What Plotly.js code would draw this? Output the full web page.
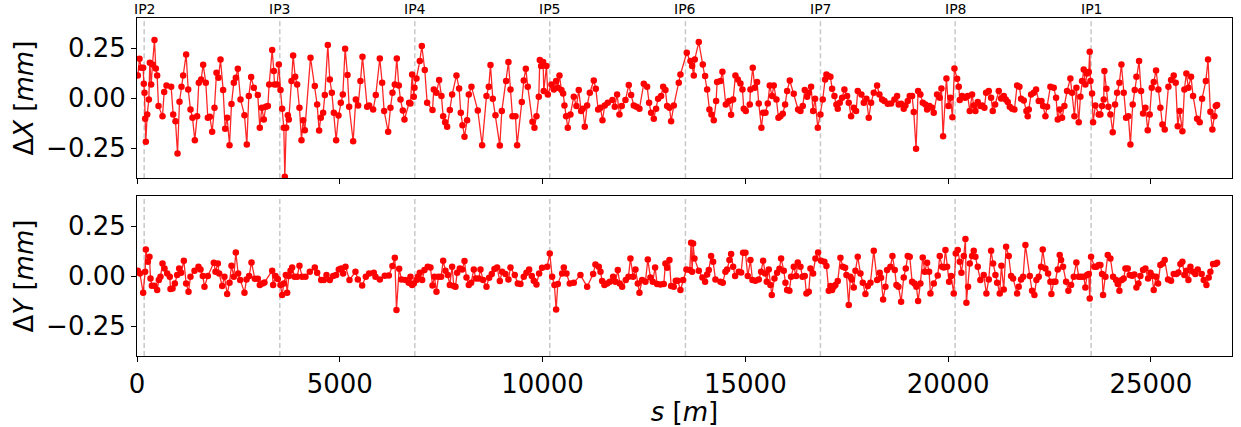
<!DOCTYPE html>
<html>
<head>
<meta charset="utf-8">
<script src="https://cdn.plot.ly/plotly-3.0.1.min.js"></script>
<style>html,body{margin:0;padding:0;background:#fff;}#chart{width:1241px;height:427px;}</style>
</head>
<body>
<div id="chart"></div>
<script>
// Longitudinal position s [m] of each BPM reading, horizontal plane
const sX = [
20,62,103,152,168,185,201,218,251,292,316,349,382,431,464,497,530,629,670,727,842,892,949,999,1048,1097,1138,1212,1262,1319,1368,1426,1483,1524,1582,1631,1697,1746,1796,1853,1911,1960,2009,2059,2124,2174,2223,2281,2330,2387,2437,2486,2552,2650,2708,2757,2815,2881,2979,3028,3078,3127,3176,3226,3259,
3333,3374,3390,3456,3497,3538,3579,3620,3645,3678,3719,3743,3809,3850,3900,3949,4006,4056,4097,4138,4278,4384,4442,4491,4532,4590,4631,4705,4754,4804,4853,4910,4968,5025,5075,5132,5190,5231,5330,5395,5453,5510,5560,5675,5724,5823,5888,5987,6045,6094,6193,6250,6299,6357,6406,6455,6497,6554,6595,6710,
6743,6784,6825,6842,6891,6973,7023,7096,7154,7286,7318,7384,7450,7507,7549,7598,7647,7713,7770,7877,7943,7984,8025,8075,8140,8181,8247,8403,8510,8617,8674,8716,8773,8839,8946,8995,9102,9159,9209,9258,9332,9373,9488,9537,9587,9636,9751,9800,9850,9907,9932,9965,10014,10030,10096,10129,
10220,10277,10335,10376,10417,10466,10507,10540,10581,10622,10688,10770,10836,10893,10951,10992,11041,11099,11165,11263,11313,11370,11428,11477,11534,11608,11723,11781,11838,11896,11953,12044,12126,12184,12249,12315,12389,12496,12578,12627,12677,12743,12800,12849,12923,12973,13030,13071,13129,13170,13236,13359,13400,13556,
13647,13688,13729,13753,13852,13951,14008,14058,14115,14164,14222,14280,14304,14386,14435,14518,14600,14649,14699,14756,14814,14879,14929,14961,15011,15109,15126,15183,15233,15290,15331,15397,15438,15496,15553,15602,15660,15701,15767,15816,15865,15923,15981,16030,16096,16194,16301,16359,16416,16465,16523,16564,16622,16671,16720,16786,16852,16909,16967,17000,17041,
17098,17139,17197,17246,17279,17328,17386,17443,17509,17550,17608,17673,17731,17772,17862,17920,17986,18043,18101,18167,18249,18306,18372,18430,18512,18594,18676,18742,18783,18841,18906,18947,19005,19054,19112,19153,19210,19260,19317,19375,19440,19482,19539,19605,19646,19728,19794,19835,19876,19958,20008,20057,20106,20156,20222,20263,20287,20345,20419,20484,20534,
20591,20632,20673,20731,20796,20837,20895,20937,21002,21060,21101,21159,21249,21306,21372,21421,21471,21520,21578,21635,21701,21758,21799,21865,21931,21963,21988,22046,22111,22169,22235,22301,22342,22399,22440,22522,22604,22662,22703,22752,22810,22867,22933,23015,23056,23114,23163,23221,23262,23303,23344,23385,23427,23468,23492,23509,23550,23575,23632,23714,
23755,23796,23837,23854,23903,23952,24002,24059,24117,24166,24224,24273,24330,24388,24445,24495,24552,24602,24643,24708,24758,24807,24865,24922,24971,25021,25070,25128,25185,25234,25284,25341,25432,25497,25563,25612,25662,25711,25777,25826,25875,25925,25990,26040,26139,26204,26262,26355,26409,26467,26516,26566,26599,26632
];
// Horizontal orbit difference ΔX [mm]
const dX = [
0.113,0.197,0.152,0.152,0.072,0.027,-0.103,-0.218,-0.082,-0.007,0.177,0.068,0.168,0.29,0.148,0.113,-0.04,-0.09,0.03,0.063,0.057,-0.082,-0.115,-0.277,-0.018,0.057,0.113,0.218,0.043,-0.057,-0.098,-0.21,-0.09,0.077,0.093,0.167,0.077,-0.098,-0.093,-0.168,-0.048,0.127,0.102,0.193,0.04,-0.153,-0.098,-0.235,-0.03,0.077,0.102,0.147,-0.007,-0.085,-0.232,0.01,0.105,0.052,0.015,-0.148,-0.048,-0.107,-0.043,-0.04,0.068,
0.24,0.135,0.068,0.068,0.168,0.04,-0.053,-0.148,-0.393,-0.148,-0.085,-0.107,0.085,0.213,0.107,0.068,-0.048,-0.21,-0.11,-0.16,0.202,0.06,-0.032,-0.162,-0.098,-0.073,0.015,0.265,0.093,0.027,-0.073,-0.21,-0.087,-0.023,0.018,0.247,0.115,-0.043,-0.215,-0.007,-0.037,0.085,0.207,-0.043,-0.037,-0.057,0.015,0.198,0.077,-0.065,-0.168,-0.048,0.027,0.068,0.198,0.063,-0.007,-0.062,-0.107,-0.023,
-0.027,0.118,0.007,0.052,0.098,0.185,0.26,0.14,-0.023,-0.06,0.043,0.027,0.09,0.01,-0.09,-0.12,-0.143,-0.06,0.018,0.113,0.048,-0.073,-0.135,-0.193,-0.11,0.018,0.057,-0.062,-0.235,0.01,0.057,0.165,-0.003,-0.085,-0.237,-0.065,0.085,0.18,0.043,-0.09,-0.09,-0.235,-0.02,0.088,0.147,0.057,-0.118,-0.148,-0.09,0.007,0.19,0.16,0.18,0.035,0.16,0.018,
0.068,0.043,0.085,0.052,0.113,0.04,0.023,-0.037,-0.09,-0.148,-0.082,0.007,-0.04,0.04,-0.065,-0.053,-0.143,-0.037,0.027,0.088,0.047,-0.057,-0.048,-0.11,-0.037,-0.023,-0.01,-0.043,0.018,-0.082,-0.04,-0.01,0.065,0.015,-0.037,-0.043,-0.053,0.072,0.057,-0.023,-0.073,-0.103,-0.053,-0.003,0.01,0.057,0.04,-0.04,-0.048,-0.115,-0.037,0.077,0.118,0.227,
0.185,0.16,0.113,0.193,0.28,0.168,0.11,0.043,-0.057,-0.082,-0.11,-0.015,0.08,0.085,0.132,-0.032,-0.015,-0.083,-0.007,0.113,0.093,0.073,0.043,-0.053,-0.065,-0.032,0.043,0.152,0.052,0.08,-0.027,-0.148,-0.073,-0.073,-0.027,0.063,0.01,0.063,-0.007,-0.098,-0.09,-0.078,-0.032,0.035,0.088,0.022,-0.057,-0.065,-0.04,0.04,0.007,0.027,0.057,-0.065,-0.003,-0.148,-0.082,-0.007,0.093,0.118,0.11,
0.107,0.047,0.01,-0.032,-0.053,-0.023,0.002,0.043,0.01,-0.023,-0.09,-0.048,-0.065,0.035,0.018,-0.023,-0.003,-0.098,-0.023,0.027,0.063,0.018,-0.007,-0.015,-0.028,-0.027,-0.007,0.01,-0.032,-0.028,-0.053,-0.037,-0.015,0.01,0.01,-0.07,-0.253,0.035,0.018,-0.023,-0.032,-0.057,-0.04,-0.048,-0.073,0.018,0.002,0.048,-0.19,0.098,-0.04,0.002,-0.095,0.148,0.097,0.057,-0.01,0.01,0.002,0.01,-0.065,
0.018,-0.037,-0.065,-0.02,-0.04,-0.037,-0.048,0.027,0.035,0.002,-0.065,-0.032,0.035,-0.002,0.01,-0.007,-0.02,-0.043,-0.053,-0.057,0.063,0.057,-0.003,-0.012,-0.065,-0.09,-0.057,0.018,0.027,0.043,-0.015,-0.015,-0.04,-0.09,-0.043,0.057,0.052,0.002,-0.107,-0.057,-0.098,-0.04,0.035,0.098,0.027,-0.09,0.052,-0.12,0.007,0.085,0.143,0.068,0.123,0.13,0.232,0.085,0.023,-0.12,-0.037,-0.082,
-0.082,-0.04,-0.007,0.135,0.047,-0.043,-0.082,-0.17,-0.032,0.027,0.077,0.168,0.027,-0.098,-0.09,-0.232,-0.032,0.04,0.107,0.185,0.035,-0.077,-0.048,-0.16,-0.082,0.052,0.08,0.138,0.043,-0.048,-0.132,-0.157,0.057,0.09,0.113,0.077,-0.14,-0.065,-0.165,0.043,0.123,0.052,0.107,0.01,-0.103,-0.12,-0.003,0.085,0.193,-0.068,-0.157,-0.09,-0.04,-0.035
];
// Longitudinal position s [m], vertical plane
const sY = [
20,70,152,201,218,267,308,333,366,431,497,538,579,629,678,744,809,826,875,933,990,1040,1089,1155,1212,1270,1319,1418,1516,1566,1623,1664,1746,1894,1935,1993,2026,2100,2157,2223,2281,2330,2387,2437,2494,2544,2650,2700,2765,2823,2905,2979,3028,3094,3143,
3333,3357,3415,3472,3538,3579,3620,3669,3702,3743,3785,3826,3883,3949,4006,4072,4154,4261,4384,4442,4541,4606,4672,4754,4837,4910,4976,5034,5083,5141,5239,5387,5445,5552,5642,5724,5839,5880,5987,6110,6209,6299,6357,6398,6464,6521,6620,6702,
6743,6784,6825,6891,6924,6973,7031,7088,7170,7236,7286,7335,7384,7433,7499,7549,7606,7664,7713,7770,7811,7853,7894,7959,8017,8075,8124,8181,8239,8305,8354,8428,8469,8535,8617,8683,8748,8814,8880,8946,9003,9085,9159,9209,9315,9389,9455,9537,9603,9669,9735,9784,9850,9915,9989,10113,10178,
10236,10293,10335,10376,10483,10524,10589,10671,10770,10934,11099,11247,11304,11386,11428,11469,11526,11592,11658,11740,11797,11855,11904,11962,12052,12118,12167,12233,12290,12348,12389,12455,12537,12595,12660,12718,12775,12825,12907,12989,13030,13071,13129,13170,13236,13285,13334,13400,13466,13548,13630,
13663,13688,13712,13745,13852,13942,14008,14058,14099,14156,14206,14263,14386,14444,14509,14551,14608,14649,14699,14748,14838,14896,14945,15003,15060,15126,15175,15249,15331,15389,15438,15487,15528,15578,15619,15652,15718,15783,15841,15882,15948,15989,16030,16087,16128,16194,16252,16293,16359,16408,16465,16506,16564,16605,16671,16729,16794,16868,16950,17000,17057,
17098,17139,17180,17221,17279,17345,17402,17460,17493,17550,17591,17624,17673,17715,17772,17838,17896,17961,18019,18085,18167,18249,18314,18347,18397,18454,18495,18578,18627,18685,18726,18775,18841,18906,18956,19005,19054,19112,19169,19218,19260,19317,19375,19424,19482,19531,19564,19646,19744,19794,19851,19892,19934,19975,20024,20073,20139,20188,20238,20287,20328,20386,20427,20451,20492,20534,
20591,20632,20673,20731,20796,20878,20944,21002,21060,21109,21167,21208,21273,21314,21372,21430,21495,21553,21602,21701,21742,21799,21849,21906,22013,22070,22128,22177,22235,22292,22333,22399,22465,22522,22547,22604,22646,22703,22752,22785,22834,22909,22966,23032,23098,23163,23221,23279,23344,23385,23427,23468,23492,23525,23607,23657,23714,
23755,23796,23821,23879,23936,24002,24068,24141,24183,24224,24281,24330,24372,24429,24478,24536,24593,24643,24692,24741,24807,24865,24930,24988,25029,25070,25128,25177,25234,25292,25341,25423,25497,25563,25629,25678,25728,25777,25826,25875,25925,25974,26040,26097,26155,26253,26303,26369,26426,26467,26533,26591,26632
];
// Vertical orbit difference ΔY [mm]
const dY = [
0.027,0.013,-0.083,0.022,0.133,0.072,0.097,-0.012,-0.048,-0.048,-0.07,-0.02,-0.003,0.063,0.038,0.013,-0.003,-0.065,-0.062,-0.037,0.005,0.038,0.017,0.077,-0.037,-0.078,-0.003,0.027,0.047,0.033,0,-0.053,0,0.067,0.022,0.063,0.013,-0.05,-0.003,-0.09,-0.033,0.052,-0.003,0.118,0.013,-0.02,-0.083,-0.017,0,0.068,-0.013,-0.013,-0.045,-0.037,-0.032,
0.027,-0.045,0,-0.015,-0.045,-0.095,-0.037,0.005,-0.083,0,0.027,0.043,-0.003,-0.003,0.052,-0.003,-0.003,0.022,0.043,0.017,-0.02,-0.02,0.005,-0.02,0,0.005,0.033,0.038,0.013,0.047,-0.02,0.022,-0.017,-0.047,-0.003,0.013,0.017,-0.003,-0.017,0.002,0.003,0.05,0.092,-0.17,0.037,-0.017,-0.02,-0.033,
-0.003,-0.045,-0.037,-0.02,-0.003,0.017,-0.02,0.03,0.047,0.043,-0.047,-0.003,-0.078,-0.003,-0.003,0.077,0.027,0.005,-0.045,0.047,-0.05,-0.053,0.017,0.038,0.033,0.075,-0.007,-0.045,-0.033,0.033,-0.012,-0.012,0.033,-0.02,-0.053,-0.008,0.01,0.035,0.043,-0.025,0.022,0.01,-0.017,0.043,0.005,-0.037,-0.04,-0.003,0.017,0.033,0,-0.023,-0.042,0.013,0.042,0.047,0.113,
-0.003,-0.045,-0.167,-0.04,0.013,0.043,0.013,-0.037,-0.033,0.005,-0.053,0.01,0.058,0.047,0.022,-0.025,-0.045,-0.037,-0.028,-0.003,-0.028,0.03,-0.037,-0.053,-0.02,-0.003,0.088,-0.003,0.033,-0.037,-0.083,-0.02,-0.028,0.083,-0.007,-0.028,0.043,-0.04,-0.042,-0.04,0.063,0.042,0.08,-0.05,-0.053,-0.023,-0.023,-0.07,-0.02,0.033,0.03,
0.167,0.022,0.163,0.088,0.027,-0.007,-0.028,0.008,0.03,0.1,0.072,-0.017,-0.028,-0.033,0.022,0.033,0.08,0.11,0.047,0,0.022,0.018,0.117,0.117,0,0.08,-0.02,-0.023,-0.017,0.022,0.077,0.013,-0.028,0.033,-0.045,-0.095,-0.012,0.017,0.037,0.088,0.027,-0.033,-0.07,-0.073,-0.003,0.047,0,0.068,0.047,-0.003,0,-0.087,-0.078,0.038,0.013,0.088,0.118,0.077,0.072,0.05,-0.073,
-0.05,-0.07,-0.053,-0.045,-0.025,0.092,0.047,0.042,0.005,-0.145,-0.003,-0.017,-0.057,0.027,0.097,0.013,-0.033,-0.09,-0.05,-0.033,0.127,-0.02,0.017,-0.008,-0.117,-0.053,0.03,0.047,0.1,0.03,-0.045,-0.053,-0.128,-0.007,0.038,0.1,0.097,-0.028,-0.037,-0.053,-0.125,-0.037,0.093,0.022,0.067,0.022,-0.087,-0.037,0.003,0.1,0.047,0.043,0.13,0.047,-0.028,0,-0.087,0.113,0.13,0.072,0.017,0.1,0.185,-0.133,-0.053,0.063,
0.1,0.127,0.097,0.047,-0.02,0.005,-0.087,-0.017,0.127,0.063,0.005,-0.033,-0.087,0.052,-0.067,0.147,0.1,0,-0.012,-0.087,-0.053,-0.017,-0.003,0.155,0,-0.073,-0.095,-0.02,-0.003,0.047,0.133,0.038,0.013,-0.028,-0.09,-0.028,-0.028,0.033,0.105,0.08,0.047,-0.028,-0.073,-0.045,-0.003,0.068,-0.003,-0.003,-0.003,-0.057,0.005,0.01,-0.112,0.097,0.047,0.047,0.055,
0.055,0.01,-0.095,-0.003,0.105,0.088,-0.003,-0.02,-0.04,-0.073,-0.02,-0.012,0.038,0.038,0.005,0.002,0.008,-0.057,-0.037,0,0.03,0.038,-0.012,0.017,0.002,-0.07,-0.003,-0.037,0.055,0.063,0.08,-0.017,-0.023,0.01,0.01,0.018,0.06,0.072,0.005,0.027,-0.02,0.047,0.022,0.01,0.033,0.01,-0.02,-0.045,-0.007,0.022,0.06,0.06,0.067
];
// Interaction points
const ipNames = ['IP2','IP3','IP4','IP5','IP6','IP7','IP8','IP1'];
const ipS = [177, 3521, 6850, 10178, 13523, 16852, 20173, 23526];
// Tick labels
const xTickVals = [0, 5000, 10000, 15000, 20000, 25000];
const xTickText = ['0', '5000', '10000', '15000', '20000', '25000'];
const yTickVals = [-0.25, 0, 0.25];
const yTickText = ['\u22120.25', '0.00', '0.25'];

const FONT = 'DejaVu Sans, Arial, sans-serif';
const traceStyle = {
  mode: 'lines+markers',
  line: {color: 'rgba(255,0,0,0.85)', width: 1.3},
  marker: {color: '#ff0000', size: 6.5},
  showlegend: false,
  hoverinfo: 'x+y'
};
const traces = [
  Object.assign({x: sX, y: dX, xaxis: 'x', yaxis: 'y'}, traceStyle),
  Object.assign({x: sY, y: dY, xaxis: 'x2', yaxis: 'y2'}, traceStyle)
];

const axisCommon = {
  showline: true, linecolor: '#000', linewidth: 1, mirror: true,
  ticks: 'outside', ticklen: 5, tickwidth: 1, tickcolor: '#000',
  showgrid: false, zeroline: false,
  tickfont: {family: FONT, size: 26, color: '#000'}
};
const xCommon = Object.assign({}, axisCommon, {
  range: [0, 27000], tickmode: 'array', tickvals: xTickVals, ticktext: xTickText
});
const yCommon = Object.assign({}, axisCommon, {
  range: [-0.4, 0.4], tickmode: 'array', tickvals: yTickVals, ticktext: yTickText
});

const shapes = [];
ipS.forEach(s => {
  ['y domain', 'y2 domain'].forEach((yr, i) => {
    shapes.push({
      type: 'line', xref: i === 0 ? 'x' : 'x2', yref: yr,
      x0: s, x1: s, y0: 0, y1: 1,
      line: {color: '#c8c8c8', width: 1.5, dash: '5px,3px'},
      layer: 'below'
    });
  });
});
const annotations = ipNames.map((n, i) => ({
  x: ipS[i], xref: 'x', y: 1, yref: 'paper',
  text: n, showarrow: false, xanchor: 'center', yanchor: 'bottom',
  yshift: -1,
  font: {family: FONT, size: 14, color: '#000'}
}));

const layout = {
  width: 1241, height: 427,
  margin: {l: 137, r: 9, t: 18, b: 71},
  paper_bgcolor: '#fff', plot_bgcolor: '#fff',
  font: {family: FONT, color: '#000'},
  xaxis: Object.assign({}, xCommon, {anchor: 'y', showticklabels: false, domain: [0, 1]}),
  xaxis2: Object.assign({}, xCommon, {anchor: 'y2', matches: 'x', domain: [0, 1],
    title: {text: '<i>s</i> [<i>m</i>]', font: {family: FONT, size: 26, color: '#000'}, standoff: 3}}),
  yaxis: Object.assign({}, yCommon, {anchor: 'x', domain: [0.526, 1],
    title: {text: '\u0394<i>X</i> [<i>mm</i>]', font: {family: FONT, size: 26, color: '#000'}, standoff: 5}}),
  yaxis2: Object.assign({}, yCommon, {anchor: 'x2', domain: [0, 0.473],
    title: {text: '\u0394<i>Y</i> [<i>mm</i>]', font: {family: FONT, size: 26, color: '#000'}, standoff: 5}}),
  shapes: shapes,
  annotations: annotations
};

Plotly.newPlot('chart', traces, layout, {displayModeBar: false, staticPlot: true});
</script>
</body>
</html>
